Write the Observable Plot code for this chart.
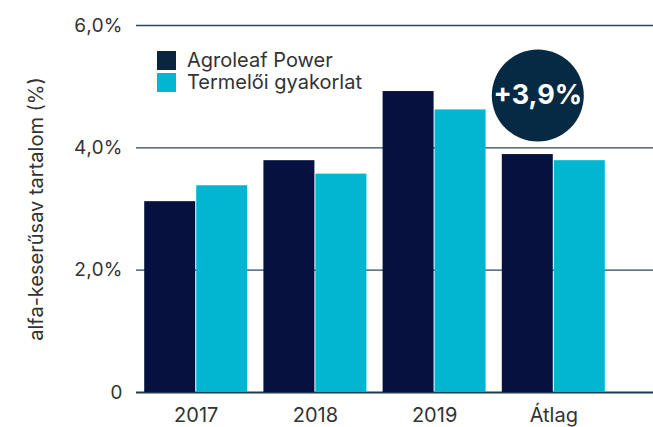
<!DOCTYPE html>
<html>
<head>
<meta charset="utf-8">
<script src="https://cdn.jsdelivr.net/npm/d3@7"></script>
<script src="https://cdn.jsdelivr.net/npm/@observablehq/plot@0.6"></script>
<style>
  html, body { margin: 0; padding: 0; background: #fff; }
  #wrap { position: relative; width: 653px; height: 427px; font-family: Inter, "Noto Sans", sans-serif; }
  #legend { position: absolute; left: 157px; top: 49px; font-size: 20px; color: #333; }
  .row { display: flex; align-items: center; height: 22px; }
  .sw { width: 19px; height: 19px; margin-right: 11px; }
</style>
</head>
<body>
<div id="wrap"><div id="legend"></div></div>
<script>
const categories = ["2017", "2018", "2019", "Átlag"];
const agroleaf = [3.12, 3.79, 4.92, 3.89];
const termeloi = [3.38, 3.57, 4.62, 3.79];
const seriesNames = ["Agroleaf Power", "Termelői gyakorlat"];
const yTicks = [0, 2, 4, 6];
const badgeCategory = "Átlag";
const badgeText = "+3,9%";
const yLabel = "alfa-keserűsav tartalom (%)";

const darkColor = "#06113f";
const tealColor = "#02b6d1";
const legendDark = "#0b2540";
const badgeColor = "#062a44";
const gridColor = "#2a4660";

const dataA = categories.map((c, i) => ({cat: c, value: agroleaf[i]}));
const dataB = categories.map((c, i) => ({cat: c, value: termeloi[i]}));
const badge = [{cat: badgeCategory, value: agroleaf[categories.indexOf(badgeCategory)], text: badgeText}];

const fmt = d => d === 0 ? "0" : d.toFixed(1).replace(".", ",") + "%";

const chart = Plot.plot({
  width: 653,
  height: 427,
  marginLeft: 136,
  marginRight: 0,
  marginTop: 25,
  marginBottom: 35,
  style: {fontFamily: "Inter, 'Noto Sans', sans-serif", fontSize: "20px", color: "#333", background: "transparent"},
  x: {domain: categories, range: [128, 621], padding: 0.136, round: false},
  y: {domain: [0, 6]},
  marks: [
    Plot.ruleY(yTicks.filter(d => d > 0), {stroke: gridColor, strokeWidth: 1.4}),
    Plot.ruleY([0], {stroke: "#1d3a52", strokeWidth: 2}),
    Plot.barY(dataA, {x: "cat", y: "value", fill: darkColor, insetRight: 52}),
    Plot.barY(dataB, {x: "cat", y: "value", fill: tealColor, insetLeft: 52}),
    Plot.axisY({ticks: yTicks, tickFormat: fmt, tickSize: 0, tickPadding: 14, fontSize: 19,
      label: null}),
    Plot.axisY({ticks: [], tickSize: 0, fontSize: 20,
      label: yLabel, labelAnchor: "center", labelArrow: false, labelOffset: 108}),
    Plot.axisX({tickSize: 0, tickPadding: 15, fontSize: 20, label: null}),
    Plot.dot(badge, {x: "cat", y: "value", r: 46, fill: badgeColor, dx: -16, dy: -59}),
    Plot.text(badge, {x: "cat", y: "value", text: "text", fill: "white", fontSize: 27, fontWeight: "bold", dx: -16, dy: -59})
  ]
});
document.getElementById("wrap").prepend(chart);

const legend = document.getElementById("legend");
seriesNames.forEach((name, i) => {
  const row = document.createElement("div");
  row.className = "row";
  const sw = document.createElement("div");
  sw.className = "sw";
  sw.style.background = i === 0 ? legendDark : tealColor;
  const t = document.createElement("span");
  t.textContent = name;
  row.appendChild(sw); row.appendChild(t);
  legend.appendChild(row);
});
</script>
</body>
</html>
